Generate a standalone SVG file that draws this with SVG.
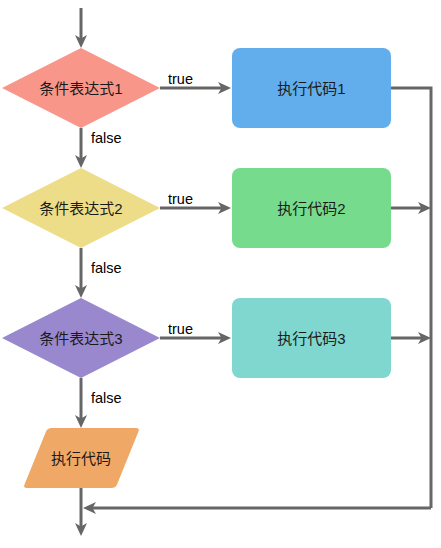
<svg xmlns="http://www.w3.org/2000/svg" width="441" height="548" viewBox="0 0 441 548">
<defs>
<marker id="arr" markerUnits="userSpaceOnUse" markerWidth="14" markerHeight="12" refX="9" refY="6" orient="auto">
<path d="M0,0 L13,6 L0,12 L3.5,6 Z" fill="#666666"/>
</marker>
</defs>
<style>
.lbl{font-family:"Liberation Sans","Noto Sans CJK SC",sans-serif;font-size:15px;fill:#1a1a1a;text-anchor:middle;dominant-baseline:central}
.edge{font-family:"Liberation Sans",sans-serif;font-size:14.5px;fill:#000}
.ln{fill:none;stroke:#666666;stroke-width:3}
.ar{marker-end:url(#arr)}
</style>
<rect width="441" height="548" fill="#ffffff"/>
<g id="connectors">
<path class="ln ar" d="M81,8 V44"/>
<path class="ln ar" d="M160,88 H227"/>
<path class="ln ar" d="M81,128 V164"/>
<path class="ln ar" d="M160,208 H227"/>
<path class="ln ar" d="M81,248 V294"/>
<path class="ln ar" d="M160,338 H227"/>
<path class="ln ar" d="M81,378 V424"/>
<path class="ln" d="M391,88 H431 V508"/>
<path class="ln ar" d="M391,208 H427"/>
<path class="ln ar" d="M391,338 H427"/>
<path class="ln ar" d="M431,508 H87"/>
<path class="ln ar" d="M81,488 V532"/>
<text class="edge" x="168" y="84">true</text>
<text class="edge" x="168" y="204">true</text>
<text class="edge" x="168" y="334">true</text>
<text class="edge" x="91" y="143">false</text>
<text class="edge" x="91" y="273">false</text>
<text class="edge" x="91" y="403">false</text>
</g>
<g id="cond1">
<polygon points="81,48 160,88 81,128 2,88" fill="#F8968A"/>
<text class="lbl" x="81" y="88">条件表达式1</text>
</g>
<g id="cond2">
<polygon points="81,168 160,208 81,248 2,208" fill="#EEDD88"/>
<text class="lbl" x="81" y="208">条件表达式2</text>
</g>
<g id="cond3">
<polygon points="81,298 160,338 81,378 2,338" fill="#9A88CF"/>
<text class="lbl" x="81" y="338">条件表达式3</text>
</g>
<g id="code1">
<rect x="232" y="48" width="159" height="80" rx="8" fill="#62AEEC"/>
<text class="lbl" x="311.5" y="88">执行代码1</text>
</g>
<g id="code2">
<rect x="232" y="168" width="159" height="80" rx="8" fill="#77DB8E"/>
<text class="lbl" x="311.5" y="208">执行代码2</text>
</g>
<g id="code3">
<rect x="232" y="298" width="159" height="80" rx="8" fill="#7FD7CF"/>
<text class="lbl" x="311.5" y="338">执行代码3</text>
</g>
<g id="code">
<path d="M55,428 H136 Q140,428 138.5,431.5 L117,484.5 Q115.5,488 111.5,488 H27 Q23,488 24.5,484.5 L46,431.5 Q47.5,428 51.5,428 Z" fill="#F0A866"/>
<text class="lbl" x="81" y="458">执行代码</text>
</g>
</svg>
